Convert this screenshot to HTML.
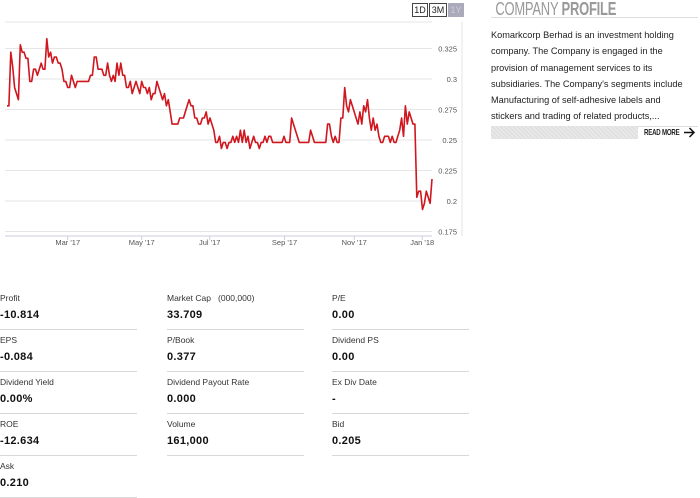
<!DOCTYPE html>
<html><head><meta charset="utf-8"><style>
body{margin:0;width:700px;height:498px;background:#fff;font-family:"Liberation Sans",sans-serif;position:relative;overflow:hidden;color:#222}
.btn{position:absolute;top:3px;height:12px;border:1px solid #444;font-size:9px;line-height:12px;text-align:center;background:#fff}
.cell{position:absolute;width:137px;height:42px;border-bottom:1px solid #d8d8d8}
.cell .l{position:absolute;top:6px;font-size:8.5px;color:#333}
.cell .v{position:absolute;top:22px;font-size:11px;font-weight:bold;color:#111;letter-spacing:0.3px}
</style></head><body>
<svg id="chart" width="465" height="255" style="position:absolute;left:0;top:0"></svg>
<div class="btn" style="left:412px;width:14px">1D</div>
<div class="btn" style="left:429px;width:16px">3M</div>
<div class="btn" style="left:448px;width:14px;background:#aab;border-color:#aab;color:#ccd">1Y</div>

<div style="position:absolute;left:491px;top:0;width:207px">
<div style="height:17px;border-bottom:1px solid #ddd;overflow:hidden"><div style="font-size:18px;color:#999;line-height:18px;padding-left:6px;transform:scaleX(0.72);transform-origin:0 0;white-space:nowrap;letter-spacing:-0.3px">COMPANY <b>PROFILE</b></div></div>
<div style="font-size:9.2px;line-height:16.3px;color:#222;margin-top:9px;height:94px;border-bottom:1px solid #ddd;padding-bottom:5px;white-space:nowrap">Komarkcorp Berhad is an investment holding<br>company. The Company is engaged in the<br>provision of management services to its<br>subsidiaries. The Company's segments include<br>Manufacturing of self-adhesive labels and<br>stickers and trading of related products,...</div>
<div style="position:absolute;left:0;top:126px;width:147px;height:13px;background:repeating-linear-gradient(45deg,#ddd 0 1px,#e8e8e8 1px 3px)"></div>
<div style="position:absolute;left:153px;top:126px;font-size:8.5px;font-weight:bold;line-height:13px;letter-spacing:-0.3px;white-space:nowrap;transform:scaleX(0.72);transform-origin:0 0">READ MORE</div>
<svg style="position:absolute;left:193px;top:127px" width="12" height="11"><path d="M0 5.5H10M5.5 1L10 5.5L5.5 10" fill="none" stroke="#111" stroke-width="1.5"/></svg>
</div>

<div class="cell" style="left:0;top:287px"><div class="l">Profit</div><div class="v">-10.814</div></div>
<div class="cell" style="left:167px;top:287px"><div class="l">Market Cap &nbsp; (000,000)</div><div class="v">33.709</div></div>
<div class="cell" style="left:332px;top:287px"><div class="l">P/E</div><div class="v">0.00</div></div>
<div class="cell" style="left:0;top:329px"><div class="l">EPS</div><div class="v">-0.084</div></div>
<div class="cell" style="left:167px;top:329px"><div class="l">P/Book</div><div class="v">0.377</div></div>
<div class="cell" style="left:332px;top:329px"><div class="l">Dividend PS</div><div class="v">0.00</div></div>
<div class="cell" style="left:0;top:371px"><div class="l">Dividend Yield</div><div class="v">0.00%</div></div>
<div class="cell" style="left:167px;top:371px"><div class="l">Dividend Payout Rate</div><div class="v">0.000</div></div>
<div class="cell" style="left:332px;top:371px"><div class="l">Ex Div Date</div><div class="v">-</div></div>
<div class="cell" style="left:0;top:413px"><div class="l">ROE</div><div class="v">-12.634</div></div>
<div class="cell" style="left:167px;top:413px"><div class="l">Volume</div><div class="v">161,000</div></div>
<div class="cell" style="left:332px;top:413px"><div class="l">Bid</div><div class="v">0.205</div></div>
<div class="cell" style="left:0;top:455px"><div class="l">Ask</div><div class="v">0.210</div></div>

<script>
const prices=[0.278,0.278,0.322,0.31,0.293,0.288,0.283,0.328,0.322,0.322,0.317,0.317,0.298,0.298,0.308,0.308,0.303,0.308,0.313,0.308,0.308,0.333,0.318,0.322,0.313,0.318,0.318,0.313,0.313,0.308,0.298,0.298,0.293,0.293,0.303,0.298,0.293,0.298,0.298,0.298,0.298,0.298,0.298,0.298,0.303,0.303,0.318,0.318,0.308,0.308,0.308,0.303,0.303,0.313,0.303,0.298,0.303,0.298,0.313,0.303,0.313,0.303,0.303,0.293,0.293,0.298,0.288,0.293,0.298,0.293,0.288,0.298,0.293,0.293,0.288,0.293,0.283,0.288,0.288,0.298,0.293,0.288,0.283,0.288,0.278,0.283,0.273,0.263,0.263,0.263,0.263,0.268,0.268,0.268,0.273,0.278,0.283,0.278,0.278,0.268,0.268,0.263,0.263,0.268,0.268,0.273,0.263,0.268,0.263,0.258,0.248,0.248,0.253,0.243,0.248,0.248,0.243,0.248,0.248,0.253,0.248,0.253,0.248,0.258,0.248,0.258,0.248,0.253,0.243,0.248,0.253,0.248,0.248,0.243,0.248,0.248,0.253,0.248,0.253,0.253,0.248,0.248,0.248,0.248,0.248,0.248,0.253,0.248,0.248,0.248,0.268,0.263,0.258,0.253,0.248,0.248,0.248,0.248,0.248,0.248,0.258,0.253,0.248,0.248,0.248,0.248,0.248,0.248,0.248,0.263,0.263,0.253,0.248,0.253,0.248,0.248,0.268,0.268,0.293,0.278,0.273,0.283,0.278,0.273,0.268,0.263,0.273,0.263,0.278,0.273,0.283,0.268,0.258,0.268,0.258,0.263,0.253,0.248,0.248,0.253,0.253,0.253,0.248,0.253,0.248,0.248,0.253,0.258,0.268,0.253,0.278,0.263,0.273,0.268,0.263,0.263,0.203,0.208,0.208,0.193,0.198,0.208,0.203,0.198,0.218];
const yTicks=[0.175,0.2,0.225,0.25,0.275,0.3,0.325];
const xTickLabels=["Mar '17","May '17","Jul '17","Sep '17","Nov '17","Jan '18"];
const xTickFrac=[0.143,0.317,0.477,0.653,0.817,0.977];
const svg=document.getElementById('chart');const NS='http://www.w3.org/2000/svg';
const X0=7,X1=432;
function xs(i){return X0+i*(X1-X0)/(prices.length-1);}
function xf(f){return X0+f*(X1-X0);}
function ys(v){return 201-(v-0.2)/0.025*30.5;}
function mk(t,a){const e=document.createElementNS(NS,t);for(const k in a)e.setAttribute(k,a[k]);svg.appendChild(e);return e;}
let g=mk('line',{x1:5,x2:432,y1:22,y2:22,stroke:'#e6e6e6'});


yTicks.forEach(v=>{
 const l=mk('line',{x1:5,x2:432,y1:ys(v),y2:ys(v),stroke:'#e6e6e6'});
 
 
 const t=mk('text',{x:457,y:ys(v)+3,'text-anchor':'end','font-size':'7.5','fill':'#555'});
 t.textContent=String(v);
 
 
});
const ax=mk('line',{x1:5,x2:432,y1:236,y2:236,stroke:'#ccd'});


const ra=mk('line',{x1:462,x2:462,y1:22,y2:236,stroke:'#e6e6e6'});


xTickLabels.forEach((s,i)=>{
 const tk=mk('line',{x1:xf(xTickFrac[i]),x2:xf(xTickFrac[i]),y1:236,y2:240,stroke:'#ccd'});
 
 
 const t=mk('text',{x:xf(xTickFrac[i]),y:245,'text-anchor':'middle','font-size':'7.5','fill':'#555'});
 t.textContent=s;
 
 
});
const p=mk('polyline',{points:prices.map((v,i)=>xs(i).toFixed(1)+','+ys(v).toFixed(1)).join(' '),fill:'none',stroke:'#d0161e','stroke-width':'1.6','stroke-linejoin':'round'});


</script>
</body></html>
